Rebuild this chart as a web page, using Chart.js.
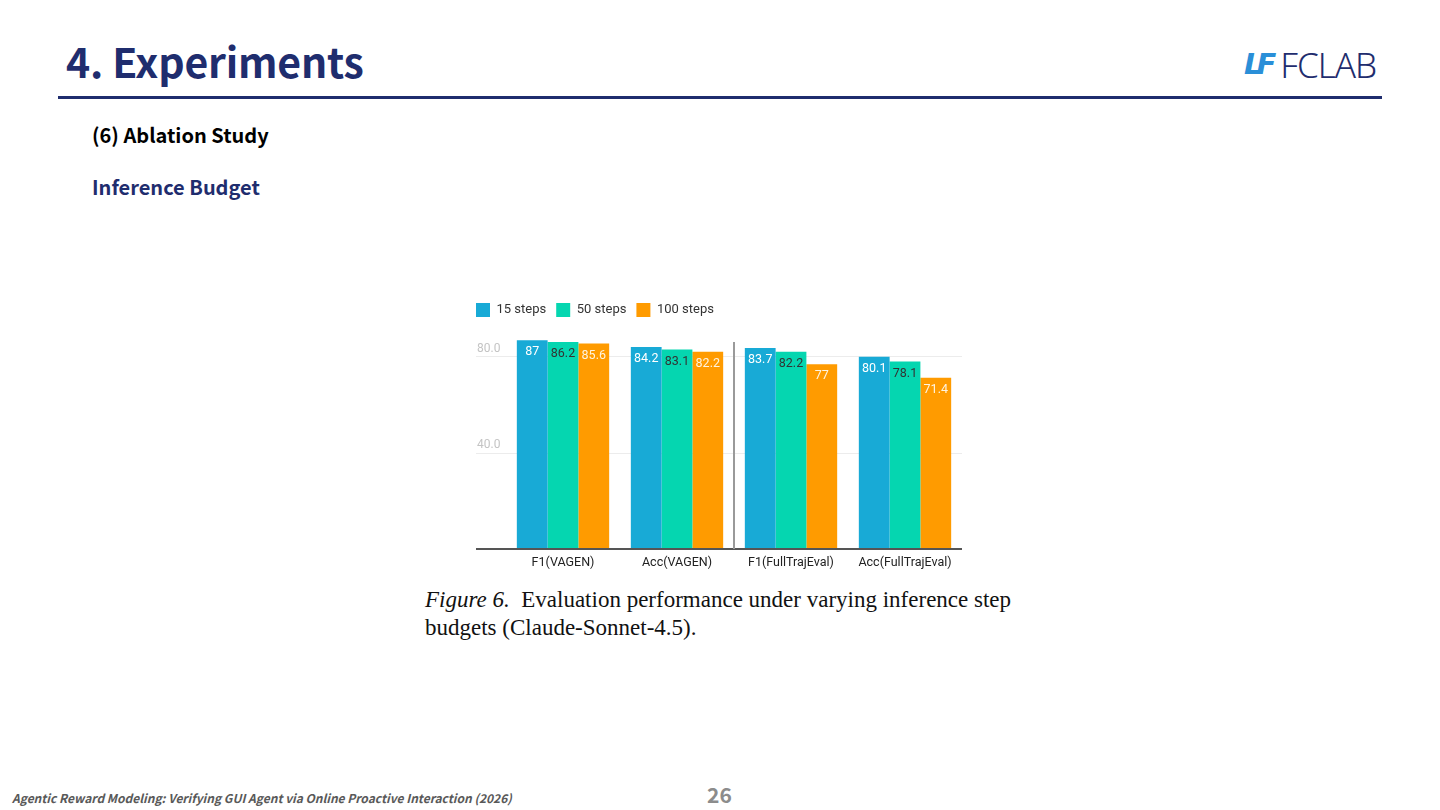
<!DOCTYPE html>
<html>
<head>
<meta charset="utf-8">
<script src="https://cdn.jsdelivr.net/npm/chart.js@4.4.1/dist/chart.umd.min.js"></script>
<style>
  html, body { margin: 0; padding: 0; background: #fff; }
  body { width: 1440px; height: 810px; position: relative; overflow: hidden; font-family: "Noto Sans CJK KR", "Noto Sans", sans-serif; }
  .title { position: absolute; left: 66px; top: 36px; font-size: 41px; font-weight: 700; color: #1f2d6e; line-height: 1.2; letter-spacing: -0.2px; }
  .rule { position: absolute; left: 58px; top: 96px; width: 1324px; height: 3px; background: #1f2d6e; }
  .logo { position: absolute; left: 1244px; top: 45px; height: 38px; display: flex; align-items: center; }
  .logo .mark { font-family: "DejaVu Sans", sans-serif; font-weight: 700; font-style: italic; font-size: 29px; color: #2a8fd8; letter-spacing: -6px; margin-right: 10px; }
  .logo .name { font-family: "Noto Sans", sans-serif; font-weight: 300; font-size: 35px; color: #1f2d6e; letter-spacing: -1px; }
  .sub { position: absolute; left: 92px; top: 122px; font-size: 20px; font-weight: 700; color: #000; line-height: 1.3; }
  .sub2 { position: absolute; left: 92px; top: 174px; font-size: 20px; font-weight: 700; color: #1f2d6e; line-height: 1.3; }
  #wrap { position: absolute; left: 466px; top: 293px; width: 500px; height: 287px; }
  .caption { position: absolute; left: 425px; top: 586px; font-family: "Liberation Serif", "Times New Roman", serif; font-size: 23px; line-height: 28px; color: #111; }
  .foot { position: absolute; left: 12px; top: 789px; font-size: 12px; font-style: italic; font-weight: 700; color: #595959; }
  .page { position: absolute; left: 707px; top: 779px; font-size: 21px; font-weight: 700; color: #8c8c8c; }
</style>
</head>
<body>
<div class="title">4. Experiments</div>
<div class="logo"><span class="mark">LF</span><span class="name">FCLAB</span></div>
<div class="rule"></div>
<div class="sub">(6) Ablation Study</div>
<div class="sub2">Inference Budget</div>
<div id="wrap"><canvas id="budgetChart"></canvas></div>
<div class="caption"><i>Figure 6.</i>&nbsp; Evaluation performance under varying inference step<br>budgets (Claude-Sonnet-4.5).</div>
<div class="foot">Agentic Reward Modeling: Verifying GUI Agent via Online Proactive Interaction (2026)</div>
<div class="page">26</div>

<script>
const categories = ['F1(VAGEN)', 'Acc(VAGEN)', 'F1(FullTrajEval)', 'Acc(FullTrajEval)'];
const steps15 = [87, 84.2, 83.7, 80.1];
const steps50 = [86.2, 83.1, 82.2, 78.1];
const steps100 = [85.6, 82.2, 77, 71.4];
const yTicks = [0, 40, 80];

// divider between the VAGEN and FullTrajEval groups
const dividerPlugin = {
    id: 'divider',
    beforeDatasetsDraw(chart) {
        const x = chart.scales.x.getPixelForValue(1.5);
        const y = chart.scales.y;
        const ctx = chart.ctx;
        ctx.save();
        ctx.strokeStyle = '#9a9a9a';
        ctx.lineWidth = 2;
        ctx.beginPath();
        ctx.moveTo(x, y.getPixelForValue(86.2));
        ctx.lineTo(x, y.getPixelForValue(0));
        ctx.stroke();
        ctx.restore();
    }
};

// value labels just inside the top of each bar
const barLabels = {
    id: 'barLabels',
    afterDatasetsDraw(chart) {
        const ctx = chart.ctx;
        ctx.save();
        ctx.font = '12.5px Roboto';
        ctx.textAlign = 'center';
        ctx.textBaseline = 'middle';
        chart.data.datasets.forEach((ds, i) => {
            chart.getDatasetMeta(i).data.forEach((bar, j) => {
                ctx.fillStyle = ds.labelColor;
                ctx.fillText(String(ds.data[j]), bar.x, bar.y + 12);
            });
        });
        ctx.restore();
    }
};

const ctxBudget = document.getElementById('budgetChart').getContext('2d');
const budgetChart = new Chart(ctxBudget, {
    type: 'bar',
    data: {
        labels: categories,
        datasets: [{
            label: '15 steps',
            data: steps15,
            backgroundColor: '#18aad6',
            labelColor: '#ffffff'
        }, {
            label: '50 steps',
            data: steps50,
            backgroundColor: '#05d6b0',
            labelColor: '#333333'
        }, {
            label: '100 steps',
            data: steps100,
            backgroundColor: '#ff9b00',
            labelColor: '#fff4e0'
        }]
    },
    options: {
        responsive: true,
        maintainAspectRatio: false,
        animation: false,
        layout: { padding: { right: 4, bottom: 4 } },
        datasets: {
            bar: { categoryPercentage: 0.81, barPercentage: 1.0 }
        },
        plugins: {
            legend: {
                position: 'top',
                align: 'start',
                labels: {
                    boxWidth: 14,
                    boxHeight: 14,
                    padding: 10,
                    color: '#333',
                    font: { family: 'Roboto', size: 13 }
                }
            },
            tooltip: { enabled: false }
        },
        scales: {
            x: {
                grid: { display: false, drawTicks: false },
                border: { display: false },
                ticks: {
                    padding: 6,
                    color: '#222',
                    font: { family: 'Roboto', size: 12.5 }
                }
            },
            y: {
                min: 0,
                max: 92.5,
                afterBuildTicks: s => { s.ticks = yTicks.map(v => ({ value: v })); },
                afterFit: s => { s.width = 40; },
                border: { display: false },
                grid: {
                    tickLength: 30,
                    color: c => c.tick && c.tick.value === 0 ? '#555' : '#ececec',
                    lineWidth: c => c.tick && c.tick.value === 0 ? 2 : 1
                },
                ticks: {
                    mirror: true,
                    padding: -29,
                    labelOffset: -8,
                    color: '#c4c4c4',
                    font: { family: 'Roboto', size: 12 },
                    callback: v => v === 0 ? '' : v.toFixed(1)
                }
            }
        }
    },
    plugins: [dividerPlugin, barLabels]
});
</script>
</body>
</html>
